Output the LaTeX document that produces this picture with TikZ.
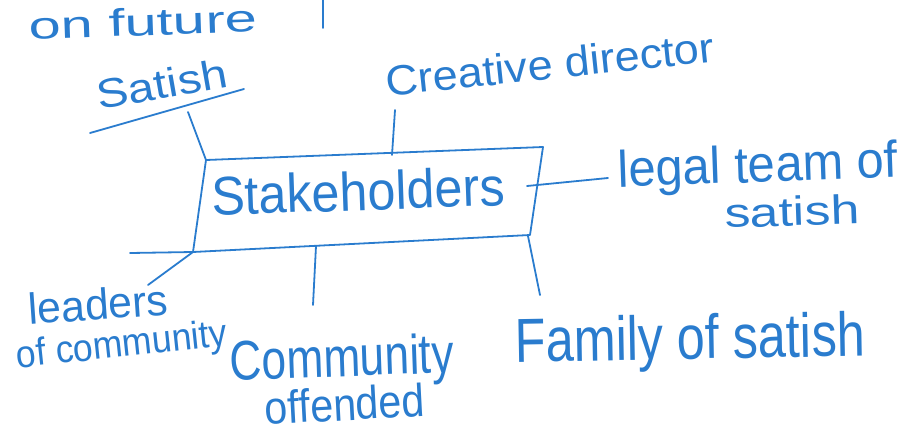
\documentclass[tikz,border=0pt]{standalone}
\usepackage{fontspec}
\setmainfont{Liberation Sans}
\definecolor{ink}{RGB}{42,124,206}
\newcommand\hwt[3]{\resizebox*{#1pt}{#2pt}{#3}}
\begin{document}
\begin{tikzpicture}[x=1pt,y=-1pt,
  inkline/.style={draw=ink, line width=1.8pt, line cap=round, line join=round},
  hw/.style={text=ink, inner sep=0pt, anchor=center}]
\useasboundingbox (0,0) rectangle (905,445);
% box corners
\coordinate (tl) at (206,160);
\coordinate (tr) at (543,147);
\coordinate (br) at (530,235);
\coordinate (bl) at (193,252);
\coordinate (tail) at (130,253);
\draw[inkline] (tl) -- (tr) -- (br) -- (bl) -- cycle;
\draw[inkline] (bl) -- (tail);
% texts
\node[hw, rotate=2] (stake) at (358,191) {\hwt{293}{40}{Stakeholders}};
\node[hw, rotate=10] (satish) at (162,84) {\hwt{132}{30}{Satish}};
\node[hw, rotate=6] (creative) at (550,64) {\hwt{330}{31}{Creative director}};
\node[hw, rotate=2] (legal) at (758,169) {\hwt{280}{48}{legal team of}};
\node[hw, rotate=2] (legal2) at (792,211) {\hwt{135}{30}{satish}};
\node[hw, rotate=4] (leaders) at (98,304) {\hwt{140}{32}{leaders}};
\node[hw, rotate=6] (ofcomm) at (122,347) {\hwt{212}{36}{of community}};
\node[hw, rotate=2] (comm) at (342,362) {\hwt{224}{52}{Community}};
\node[hw, rotate=3] (offended) at (345,404) {\hwt{160}{34}{offended}};
\node[hw, rotate=1] (family) at (690,343) {\hwt{350}{58}{Family of satish}};
\node[hw, rotate=2] (future) at (143,22) {\hwt{228}{28}{on future}};
% underline of Satish
\coordinate (u1) at (90,133);
\coordinate (u2) at (244,89);
\draw[inkline] (u1) -- (u2);
% connectors
\coordinate (sA) at (188,112);
\draw[inkline] (sA) -- (tl);
\coordinate (cA) at (395,110);
\coordinate (cB) at (392,155);
\draw[inkline] (cA) -- (cB);
\coordinate (lA) at (527,186);
\coordinate (lB) at (608,178);
\draw[inkline] (lA) -- (lB);
\coordinate (ldA) at (148,285);
\draw[inkline] (bl) -- (ldA);
\coordinate (coA) at (316,246);
\coordinate (coB) at (313,305);
\draw[inkline] (coA) -- (coB);
\coordinate (fA) at (528,236);
\coordinate (fB) at (540,295);
\draw[inkline] (fA) -- (fB);
\coordinate (topA) at (323,0);
\coordinate (topB) at (323,28);
\draw[inkline] (topA) -- (topB);
\end{tikzpicture}
\end{document}
